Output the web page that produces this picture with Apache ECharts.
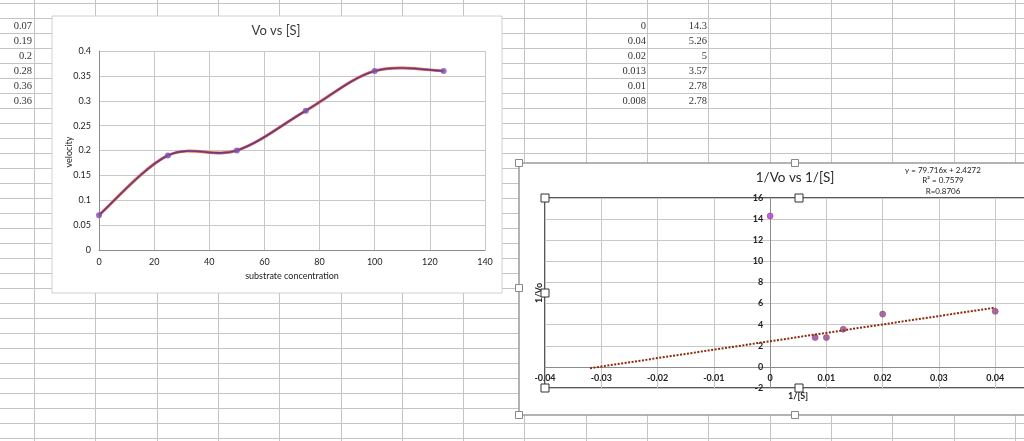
<!DOCTYPE html>
<html>
<head>
<meta charset="utf-8">
<script src="https://cdn.jsdelivr.net/npm/echarts@6/dist/echarts.min.js"></script>
<style>
html,body{margin:0;padding:0;background:#fff;}
#c{width:1024px;height:441px;}
</style>
</head>
<body>
<div id="c"></div>
<script>
// ---- data ----
const substrate = [0, 25, 50, 75, 100, 125];
const velocity = [0.07, 0.19, 0.2, 0.28, 0.36, 0.36];
const invSubstrate = [0, 0.04, 0.02, 0.013, 0.01, 0.008];
const invVelocity = [14.3, 5.26, 5, 3.57, 2.78, 2.78];
const trendX = [-0.032, 0.04];
const trendY = [-0.124, 5.616];
const equationLines = ['y = 79.716x + 2.4272', 'R\u00b2 = 0.7579', 'R=0.8706'];
const title1 = 'Vo vs [S]';
const title2 = '1/Vo vs 1/[S]';

const FONT = 'Lato, "Open Sans", sans-serif';
const chart = echarts.init(document.getElementById('c'));

const g = [];
// spreadsheet grid lines
const colW = 61.3, col0 = 34, row0 = 3.3, rowH = 15;
for (let k = 0; k < 17; k++) {
  const x = Math.round(col0 + colW * k) + 0.5;
  g.push({type: 'line', z: -10, shape: {x1: x, y1: 0, x2: x, y2: 441}, style: {stroke: '#c4c4c4', lineWidth: 1}});
}
for (let k = 0; k < 30; k++) {
  const y = Math.round(row0 + rowH * k) + 0.5;
  g.push({type: 'line', z: -10, shape: {x1: 0, y1: y, x2: 1024, y2: y}, style: {stroke: '#c4c4c4', lineWidth: 1}});
}
function cellText(txt, xRight, row) {
  g.push({type: 'text', z: 5, x: xRight, y: 26 + rowH * row,
    style: {text: txt, fill: '#333', font: '10.5px "Liberation Serif", serif',
      align: 'right', verticalAlign: 'middle', textAlign: 'right', textVerticalAlign: 'middle'}});
}
velocity.forEach((v, i) => cellText(String(v), 32, i));
invSubstrate.forEach((v, i) => cellText(String(v), 646, i));
invVelocity.forEach((v, i) => cellText(String(v), 707, i));

// chart boxes
g.push({type: 'rect', z: -5, shape: {x: 52, y: 16, width: 450, height: 277},
  style: {fill: '#fff', stroke: '#d0d0d0', lineWidth: 1}});
g.push({type: 'rect', z: -5, shape: {x: 519, y: 163, width: 520, height: 252},
  style: {fill: '#fff', stroke: '#9a9a9a', lineWidth: 1.5}});

function txt(t, x, y, size, color, rot, weight) {
  g.push({type: 'text', z: 20, x: x, y: y, rotation: rot || 0,
    style: {text: t, fill: color, font: (weight || 'normal') + ' ' + size + 'px ' + FONT,
      align: 'center', verticalAlign: 'middle', textAlign: 'center', textVerticalAlign: 'middle'}});
}
txt(title1, 276, 31, 13, '#3a3a3a');
txt('velocity', 69, 152, 9, '#222', Math.PI / 2);
txt('substrate concentration', 292, 276, 9, '#222');
txt(title2, 795, 178, 13.5, '#2a2a2a');
equationLines.forEach((t, i) => txt(t, 943, 170 + i * 10.5, 8, '#222'));
txt('1/Vo', 539, 293, 9, '#222', Math.PI / 2, 'bold');
txt('1/[S]', 798, 396, 9, '#222', 0, 'bold');

function handle(x, y, s, stroke) {
  g.push({type: 'rect', z: 30, shape: {x: x - s / 2, y: y - s / 2, width: s, height: s},
    style: {fill: '#fff', stroke: stroke, lineWidth: 1}});
}
[[519,163],[795,163],[519,288],[519,415],[795,415]].forEach(p => handle(p[0], p[1], 7, '#888'));
[[545,198],[799,198],[545,293],[545,388],[799,388]].forEach(p => handle(p[0], p[1], 8, '#333'));

const axLabel1 = {fontFamily: FONT, fontSize: 9, color: '#222'};
const axLabel2 = {fontFamily: FONT, fontSize: 9, color: '#222', fontWeight: 'bold'};

// chart 2 plot geometry (layout)
const p2 = {left: 545, top: 198, right: 1051.5, bottom: 388};
const x2Min = -0.04, x2Max = 0.05, y2Min = -2, y2Max = 16;
const yAxisOffset = -((0 - x2Min) / (x2Max - x2Min)) * (p2.right - p2.left);
const xAxisOffset = -((0 - y2Min) / (y2Max - y2Min)) * (p2.bottom - p2.top);

function clampIdx(k) { return Math.max(0, Math.min(substrate.length - 1, k)); }
function smoothSegment(params, api) {
  const i = params.dataIndex;
  if (i >= substrate.length - 1) return null;
  const P = k => api.coord([substrate[clampIdx(k)], velocity[clampIdx(k)]]);
  const a = P(i - 1), b = P(i), c = P(i + 1), d = P(i + 2);
  const shape = {
    x1: b[0], y1: b[1], x2: c[0], y2: c[1],
    cpx1: b[0] + (c[0] - a[0]) / 6, cpy1: b[1] + (c[1] - a[1]) / 6,
    cpx2: c[0] - (d[0] - b[0]) / 6, cpy2: c[1] - (d[1] - b[1]) / 6
  };
  return {type: 'group', children: [
    {type: 'bezierCurve', shape: shape, style: {stroke: '#e0703a', lineWidth: 3, fill: 'none'}},
    {type: 'bezierCurve', shape: shape, style: {stroke: '#6b3598', lineWidth: 1.6, fill: 'none'}}
  ]};
}

chart.setOption({
  animation: false,
  graphic: {elements: g},
  grid: [
    {left: 99, top: 51, right: 1024 - 485, bottom: 441 - 250, show: false, outerBoundsMode: 'none', containLabel: false},
    {left: p2.left, top: p2.top, right: 1024 - p2.right, bottom: 441 - p2.bottom, show: true,
      borderColor: '#222', borderWidth: 1.5, backgroundColor: 'transparent', outerBoundsMode: 'none', containLabel: false}
  ],
  xAxis: [
    {type: 'value', gridIndex: 0, min: 0, max: 140, interval: 20,
      axisLine: {lineStyle: {color: '#8c8c8c'}}, axisTick: {show: false},
      axisLabel: Object.assign({margin: 8}, axLabel1),
      splitLine: {lineStyle: {color: '#c8c8c8'}}},
    {type: 'value', gridIndex: 1, min: x2Min, max: x2Max, interval: 0.01,
      position: 'bottom', offset: xAxisOffset,
      axisLine: {onZero: false, lineStyle: {color: '#8c8c8c'}}, axisTick: {show: false},
      axisLabel: Object.assign({margin: 7}, axLabel2),
      splitLine: {lineStyle: {color: '#c8c8c8'}}}
  ],
  yAxis: [
    {type: 'value', gridIndex: 0, min: 0, max: 0.4, interval: 0.05,
      axisLine: {show: true, lineStyle: {color: '#8c8c8c'}}, axisTick: {show: false},
      axisLabel: Object.assign({margin: 8}, axLabel1),
      splitLine: {lineStyle: {color: '#c8c8c8'}}},
    {type: 'value', gridIndex: 1, min: y2Min, max: y2Max, interval: 2,
      position: 'left', offset: yAxisOffset,
      axisLine: {show: true, onZero: false, lineStyle: {color: '#8c8c8c'}}, axisTick: {show: false},
      axisLabel: Object.assign({margin: 7}, axLabel2),
      splitLine: {lineStyle: {color: '#c8c8c8'}}}
  ],
  series: [
    {type: 'custom', xAxisIndex: 0, yAxisIndex: 0, renderItem: smoothSegment,
      data: substrate.map((x, i) => [x, velocity[i]]), encode: {x: 0, y: 1}, z: 2},
    {type: 'scatter', xAxisIndex: 0, yAxisIndex: 0, symbol: 'circle', symbolSize: 6,
      data: substrate.map((x, i) => [x, velocity[i]]),
      itemStyle: {color: '#7b4fb0'}, z: 3},
    {type: 'line', xAxisIndex: 1, yAxisIndex: 1, symbol: 'none',
      data: trendX.map((x, i) => [x, trendY[i]]),
      lineStyle: {color: '#8a2a0a', width: 2, type: [2, 1.5]}},
    {type: 'scatter', xAxisIndex: 1, yAxisIndex: 1, symbolSize: 6,
      data: invSubstrate.map((x, i) => [x, invVelocity[i]]),
      itemStyle: {color: p => p.dataIndex === 0 ? '#a83cf0' : '#8a4a98',
        borderColor: '#b04060', borderWidth: 0.8}}
  ]
});
</script>
</body>
</html>
